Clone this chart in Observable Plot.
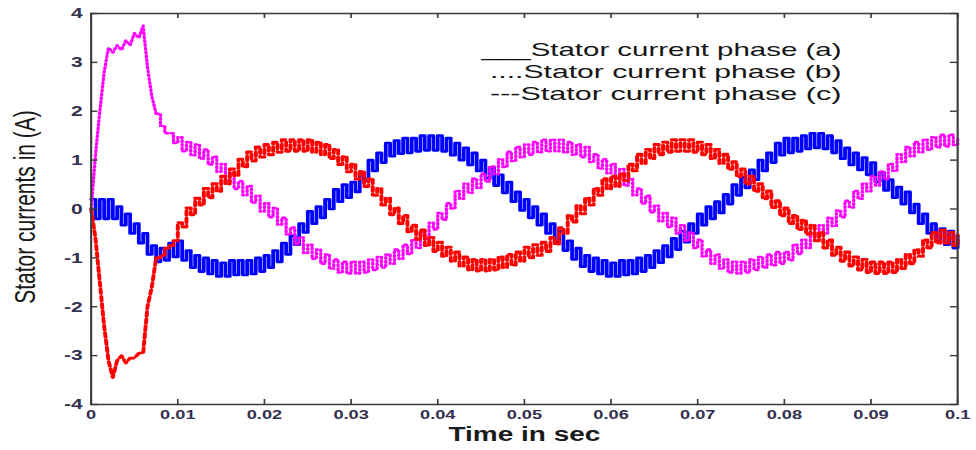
<!DOCTYPE html>
<html><head><meta charset="utf-8">
<script src="https://cdn.jsdelivr.net/npm/d3@7"></script>
<script src="https://cdn.jsdelivr.net/npm/@observablehq/plot@0.6"></script>
<style>html,body{margin:0;padding:0;background:#fff}#chart svg{display:block}</style>
</head><body><div id="chart"></div>
<script>
// sample spacing of the read-off values (s)
const sampleStep = 0.0005;

// Stator current phase (a) — solid blue
const phaseA = [
0.2,-0.2, 0.2,-0.2, 0.2,-0.2, 0.05,-0.33, -0.1,-0.5, -0.3,-0.7, -0.5,-0.93, -0.75,-1.08, -0.8,-1.05, -0.7,-0.98,
-0.65,-1.05, -0.85,-1.2, -0.95,-1.28, -1.0,-1.33, -1.05,-1.38, -1.1,-1.38, -1.05,-1.35, -1.05,-1.35, -1.05,-1.33, -1.0,-1.28,
-0.95,-1.2, -0.85,-1.08, -0.7,-0.93, -0.55,-0.73, -0.3,-0.48, -0.05,-0.3, 0.05,-0.18, 0.2,0.0, 0.4,0.15, 0.5,0.23,
0.55,0.35, 0.75,0.58, 1.0,0.78, 1.15,0.95, 1.35,1.08, 1.4,1.13, 1.45,1.15, 1.45,1.18, 1.5,1.2, 1.5,1.2,
1.5,1.18, 1.45,1.1, 1.35,1.0, 1.25,0.9, 1.15,0.78, 1.0,0.63, 0.85,0.48, 0.7,0.33, 0.55,0.15, 0.35,-0.03,
0.2,-0.18, 0.05,-0.33, -0.1,-0.5, -0.3,-0.68, -0.45,-0.85, -0.65,-1.03, -0.8,-1.18, -0.95,-1.28, -1.0,-1.33, -1.05,-1.38,
-1.1,-1.38, -1.05,-1.35, -1.05,-1.33, -1.0,-1.28, -0.95,-1.2, -0.85,-1.1, -0.75,-0.98, -0.6,-0.83, -0.45,-0.68, -0.3,-0.5,
-0.1,-0.33, 0.05,-0.2, 0.15,-0.08, 0.3,0.1, 0.5,0.28, 0.65,0.43, 0.8,0.6, 1.0,0.78, 1.15,0.95, 1.35,1.1,
1.45,1.15, 1.45,1.18, 1.5,1.23, 1.55,1.25, 1.55,1.23, 1.5,1.15, 1.4,1.03, 1.25,0.9, 1.15,0.8, 1.05,0.7,
0.95,0.55, 0.75,0.38, 0.6,0.23, 0.45,0.1, 0.35,-0.08, 0.1,-0.3, -0.1,-0.5, -0.3,-0.65, -0.4,-0.73, -0.45,-0.8,
-0.55
];

// Stator current phase (b) — dotted magenta
const phaseB = [
0.0,1.1, 2.0,2.8, 3.3,3.2, 3.35,3.25, 3.45,3.35, 3.6,3.5, 3.75,2.9, 2.3,1.95, 1.7,1.55, 1.55,1.35,
1.47,1.18, 1.37,1.1, 1.32,1.03, 1.22,0.91, 1.07,0.76, 0.92,0.58, 0.72,0.41, 0.57,0.28, 0.47,0.13, 0.27,-0.05,
0.12,-0.17, 0.02,-0.32, -0.18,-0.52, -0.38,-0.72, -0.58,-0.9, -0.73,-1.02, -0.83,-1.12, -0.93,-1.22, -1.03,-1.3, -1.08,-1.32,
-1.08,-1.32, -1.08,-1.3, -1.03,-1.25, -0.98,-1.2, -0.93,-1.12, -0.83,-1.02, -0.73,-0.92, -0.63,-0.8, -0.48,-0.62, -0.28,-0.42,
-0.08,-0.22, 0.12,0.01, 0.37,0.21, 0.52,0.33, 0.62,0.43, 0.72,0.56, 0.87,0.71, 1.02,0.86, 1.17,0.98, 1.27,1.06,
1.32,1.11, 1.37,1.16, 1.42,1.18, 1.42,1.18, 1.42,1.16, 1.37,1.11, 1.32,1.06, 1.27,0.96, 1.12,0.83, 1.02,0.73,
0.92,0.63, 0.82,0.48, 0.62,0.28, 0.42,0.11, 0.27,-0.07, 0.07,-0.25, -0.08,-0.37, -0.18,-0.5, -0.33,-0.65, -0.48,-0.8,
-0.63,-0.97, -0.83,-1.12, -0.93,-1.22, -1.03,-1.3, -1.08,-1.32, -1.08,-1.3, -1.03,-1.25, -0.98,-1.2, -0.93,-1.15, -0.88,-1.12,
-0.88,-1.05, -0.73,-0.92, -0.63,-0.8, -0.48,-0.65, -0.33,-0.5, -0.18,-0.35, -0.03,-0.17, 0.17,0.03, 0.37,0.21, 0.52,0.36,
0.67,0.48, 0.77,0.61, 0.92,0.78, 1.12,0.96, 1.27,1.08, 1.37,1.16, 1.42,1.21, 1.47,1.26, 1.52,1.28, 1.52,1.31,
1.45
];

// Stator current phase (c) — dashed red
const phaseC = [
0.0,-0.6, -1.5,-2.4, -3.1,-3.45, -3.1,-3.0, -3.15,-3.05, -3.05,-2.95, -2.95,-2.0, -1.6,-1.0, -0.95,-0.8, -0.75,-0.65,
-0.28,-0.37, 0.02,-0.12, 0.22,0.08, 0.42,0.23, 0.52,0.36, 0.67,0.51, 0.82,0.68, 1.02,0.86, 1.17,0.98, 1.27,1.06,
1.32,1.11, 1.37,1.16, 1.42,1.18, 1.42,1.18, 1.42,1.18, 1.42,1.16, 1.37,1.11, 1.32,1.03, 1.22,0.91, 1.07,0.76,
0.92,0.61, 0.77,0.46, 0.62,0.28, 0.42,0.08, 0.22,-0.12, 0.02,-0.3, -0.13,-0.47, -0.33,-0.62, -0.43,-0.75, -0.58,-0.87,
-0.68,-0.97, -0.78,-1.07, -0.88,-1.17, -0.98,-1.25, -1.03,-1.27, -1.03,-1.27, -1.03,-1.25, -0.98,-1.2, -0.93,-1.15, -0.88,-1.07,
-0.78,-1.0, -0.73,-0.95, -0.68,-0.87, -0.58,-0.72, -0.38,-0.5, -0.13,-0.27, 0.07,-0.1, 0.22,0.08, 0.42,0.28, 0.62,0.41,
0.67,0.46, 0.72,0.58, 0.92,0.78, 1.12,0.93, 1.22,1.03, 1.32,1.11, 1.37,1.16, 1.42,1.18, 1.42,1.18, 1.42,1.16,
1.37,1.11, 1.32,1.03, 1.22,0.93, 1.12,0.81, 0.97,0.66, 0.82,0.51, 0.67,0.36, 0.52,0.21, 0.37,0.03, 0.17,-0.14,
0.02,-0.3, -0.13,-0.42, -0.23,-0.52, -0.33,-0.65, -0.48,-0.8, -0.63,-0.95, -0.78,-1.07, -0.88,-1.17, -0.98,-1.25, -1.03,-1.3,
-1.08,-1.32, -1.08,-1.32, -1.08,-1.3, -1.03,-1.22, -0.93,-1.12, -0.83,-0.97, -0.63,-0.8, -0.48,-0.7, -0.43,-0.7, -0.48,-0.75,
-0.53
];

// number of leading samples that form the start-up transient (drawn as straight segments)
const transientSamples = 16;

const xTicks = [0, 0.01, 0.02, 0.03, 0.04, 0.05, 0.06, 0.07, 0.08, 0.09, 0.1];
const xTickLabels = ["0", "0.01", "0.02", "0.03", "0.04", "0.05", "0.06", "0.07", "0.08", "0.09", "0.1"];
const yTicks = [-4, -3, -2, -1, 0, 1, 2, 3, 4];
const yTickLabels = ["-4", "-3", "-2", "-1", "0", "1", "2", "3", "4"];
const legendLabels = ["___Stator current phase (a)", "....Stator current phase (b)", "---Stator current phase (c)"];
const xTitle = "Time in sec";
const yTitle = "Stator currents in (A)";

// ---- build tables ----
const time = phaseA.map((_, i) => +(i * sampleStep).toFixed(4));
const toRows = vals => vals.map((v, i) => ({t: time[i], v}));
const rowsA = toRows(phaseA), rowsB = toRows(phaseB), rowsC = toRows(phaseC);
const headB = rowsB.slice(0, transientSamples), tailB = rowsB.slice(transientSamples - 1);
const headC = rowsC.slice(0, transientSamples), tailC = rowsC.slice(transientSamples - 1);

// the original figure is horizontally stretched; draw at a narrower width and stretch the SVG
const W = 697, H = 450, OUT_W = 976;
const mL = 64.6, mR = 13.6, mT = 13, mB = 46;
const innerW = W - mL - mR, innerH = H - mT - mB;
const tickLen = 5;
const font = "'Liberation Sans', Arial, Helvetica, sans-serif";
const labelColor = "#34304f";
const legendWidths = [257, 251, 251];

const magentaStyle = {stroke: "#ff00ff", strokeWidth: 2.4, strokeDasharray: "1.4,2.4"};
const redStyle = {stroke: "#ff0000", strokeWidth: 2.8, strokeDasharray: "4.5,2.8"};

const chart = Plot.plot({
  width: W, height: H,
  marginLeft: mL, marginRight: mR, marginTop: mT, marginBottom: mB,
  style: {fontFamily: font, background: "#fff", overflow: "visible"},
  x: {domain: [0, 0.1]},
  y: {domain: [-4, 4]},
  marks: [
    Plot.line(rowsA, {x: "t", y: "v", curve: "step-after", stroke: "#0000ff", strokeWidth: 2.7}),
    Plot.line(headB, {x: "t", y: "v", curve: "linear", ...magentaStyle}),
    Plot.line(tailB, {x: "t", y: "v", curve: "step-after", ...magentaStyle}),
    Plot.line(headC, {x: "t", y: "v", curve: "linear", ...redStyle}),
    Plot.line(tailC, {x: "t", y: "v", curve: "step-after", ...redStyle}),
    Plot.frame({stroke: "#3a3a3a", strokeWidth: 1.5}),
    Plot.ruleX(xTicks, {x: d => d, insetTop: innerH - tickLen, stroke: "#3a3a3a", strokeWidth: 1.2}),
    Plot.ruleX(xTicks, {x: d => d, insetBottom: innerH - tickLen, stroke: "#3a3a3a", strokeWidth: 1.2}),
    Plot.ruleY(yTicks, {y: d => d, insetRight: innerW - tickLen, stroke: "#3a3a3a", strokeWidth: 1.4}),
    Plot.ruleY(yTicks, {y: d => d, insetLeft: innerW - tickLen, stroke: "#3a3a3a", strokeWidth: 1.4}),
    Plot.axisX(xTicks, {tickSize: 0, tickPadding: 5, label: null, fontSize: 13, fontWeight: "bold", fill: labelColor,
      tickFormat: d => xTickLabels[xTicks.indexOf(d)]}),
    Plot.axisY(yTicks, {tickSize: 0, tickPadding: 6, label: null, fontSize: 15, fontWeight: "bold", fill: labelColor,
      tickFormat: d => yTickLabels[yTicks.indexOf(d)]}),
    Plot.text([xTitle], {frameAnchor: "bottom", dy: 36, fontSize: 20, fontWeight: "bold", fill: "#1a1a1a"}),
    Plot.text([yTitle], {frameAnchor: "left", textAnchor: "middle", rotate: -90, dx: -47, dy: -2, fontSize: 21, fill: "#1a1a1a"}),
    ...legendLabels.map((label, i) =>
      Plot.text([label], {frameAnchor: "top-right", textAnchor: "end", dx: -83, dy: 29 + i * 22,
        fontSize: 19, fill: "#151515"}))
  ]
});

chart.setAttribute("viewBox", `0 0 ${W} ${H}`);
chart.setAttribute("width", OUT_W);
chart.setAttribute("height", H);
chart.setAttribute("preserveAspectRatio", "none");
chart.style.width = OUT_W + "px";
chart.style.height = H + "px";
chart.style.maxWidth = "none";
document.getElementById("chart").appendChild(chart);

// widen the legend lines to the reference's width
chart.querySelectorAll("text").forEach(el => {
  const k = legendLabels.indexOf(el.textContent);
  if (k >= 0) {
    el.setAttribute("textLength", legendWidths[k]);
    el.setAttribute("lengthAdjust", "spacingAndGlyphs");
  }
});
</script>
</body></html>
